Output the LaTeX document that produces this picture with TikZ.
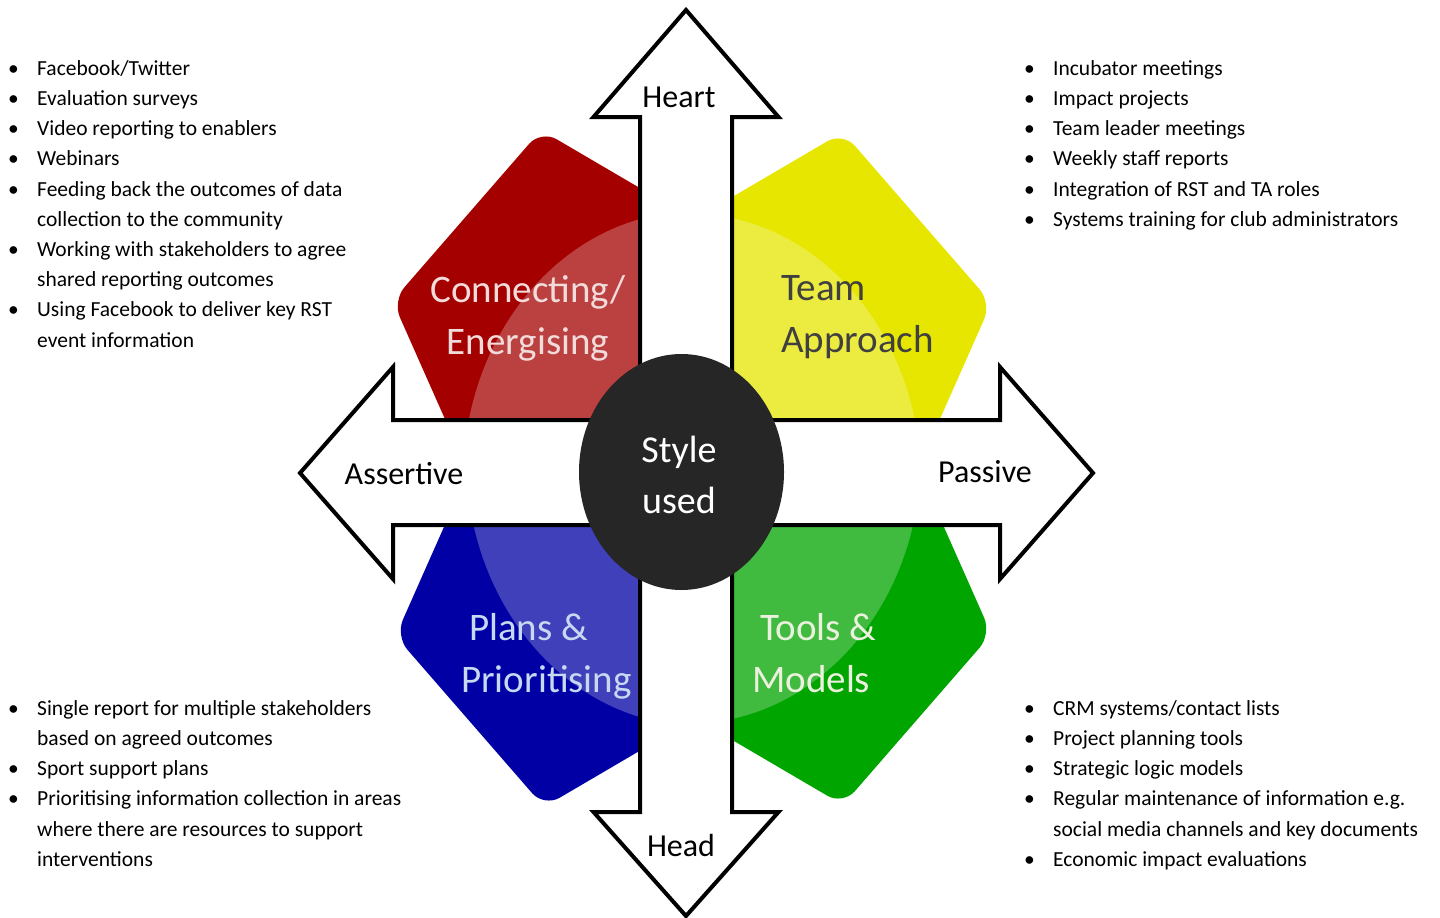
\documentclass[tikz,border=0pt]{standalone}
\usepackage{fontspec}
\setmainfont{Carlito}
\usetikzlibrary{shapes.geometric}
\definecolor{cred}{RGB}{165,0,0}
\definecolor{cyel}{RGB}{230,230,0}
\definecolor{cblue}{RGB}{0,0,165}
\definecolor{cgreen}{RGB}{0,165,0}
\definecolor{cdark}{RGB}{38,38,38}
\definecolor{tred}{RGB}{242,220,219}
\definecolor{tyel}{RGB}{64,64,64}
\definecolor{tblue}{RGB}{198,217,241}
\definecolor{tgreen}{RGB}{235,241,222}
\newcommand\petal[4]{%
  \begin{scope}[shift={(#1,#2)}, yscale=-1.15]
    \fill[#4, rounded corners=18pt] (#3:178.6) -- (#3+72:178.6) -- (#3+144:178.6) -- (#3+216:178.6) -- (#3+288:178.6) -- cycle;
    \begin{scope}
      \clip[rounded corners=18pt] (#3:178.6) -- (#3+72:178.6) -- (#3+144:178.6) -- (#3+216:178.6) -- (#3+288:178.6) -- cycle;
      \fill[white, opacity=0.25] (#3:178.6) circle (232);
    \end{scope}
  \end{scope}}
\newcommand\bul{\makebox[29pt][l]{\textbullet}}
\newcommand\ind{\hspace*{29pt}}
\begin{document}
\begin{tikzpicture}[x=1pt,y=-1pt,
  arrowbox/.style={draw=black, fill=white, line width=4pt, line join=miter},
  bigtxt/.style={font=\fontsize{39}{52}\selectfont, inner sep=0pt},
  lbl/.style={font=\fontsize{32}{38}\selectfont, anchor=base, inner sep=0pt},
  lst/.style={font=\fontsize{21.5}{30.2}\selectfont, inner sep=0pt, anchor=north west, align=left}
]
\useasboundingbox (0,0) rectangle (1440,918);

% petals
\petal{569}{333}{-45}{cred}
\petal{815}{335}{225}{cyel}
\petal{572}{604}{45}{cblue}
\petal{815}{602}{135}{cgreen}

% cross of arrows
\draw[arrowbox] (686,10) -- (778.5,117) -- (732,117) -- (732,420) -- (1000,420) -- (1000,367) -- (1093,473) -- (1000,579) -- (1000,525) -- (732,525) -- (732,812) -- (778.5,812) -- (686,916) -- (593.5,812) -- (640,812) -- (640,525) -- (393,525) -- (393,579) -- (300,473) -- (393,367) -- (393,420) -- (640,420) -- (640,117) -- (593.5,117) -- cycle;

% centre
\node (core) [ellipse, fill=cdark, minimum width=205pt, minimum height=236pt, inner sep=0pt] at (681.5,472) {};
\node (coretext) [bigtxt, text=white, align=center, font=\fontsize{38}{51}\selectfont] at (679,475) {Style\\used};

% petal labels
\node (conn) [bigtxt, text=tred, align=center] at (528,318) {Connecting/\\Energising};
\node (team) [bigtxt, text=tyel, align=left, anchor=west] at (781,317) {Team\\Approach};
\node (plans) [bigtxt, text=tblue, align=left, anchor=west] at (461,656) {\hspace*{8pt}Plans \&\\Prioritising};
\node (tools) [bigtxt, text=tgreen, align=left, anchor=west] at (752,653) {\hspace*{8pt}Tools \&\\Models};

% arrow labels
\node (heart) [lbl] at (679,107) {Heart};
\node (head) [lbl] at (681,856) {Head};
\node (assert) [lbl] at (404,484) {Assertive};
\node (passive) [lbl] at (985,482) {Passive};

% lists
\node (tl) [lst] at (8,54) {\strut\bul Facebook/Twitter\\
\bul Evaluation surveys\\
\bul Video reporting to enablers\\
\bul Webinars\\
\bul Feeding back the outcomes of data\\
\ind collection to the community\\
\bul Working with stakeholders to agree\\
\ind shared reporting outcomes\\
\bul Using Facebook to deliver key RST\\
\ind event information};

\node (tr) [lst] at (1024,54) {\strut\bul Incubator meetings\\
\bul Impact projects\\
\bul Team leader meetings\\
\bul Weekly staff reports\\
\bul Integration of RST and TA roles\\
\bul Systems training for club administrators};

\node (bl) [lst] at (8,694) {\strut\bul Single report for multiple stakeholders\\
\ind based on agreed outcomes\\
\bul Sport support plans\\
\bul Prioritising information collection in areas\\
\ind where there are resources to support\\
\ind interventions};

\node (br) [lst] at (1024,694) {\strut\bul CRM systems/contact lists\\
\bul Project planning tools\\
\bul Strategic logic models\\
\bul Regular maintenance of information e.g.\\
\ind social media channels and key documents\\
\bul Economic impact evaluations};
\end{tikzpicture}
\end{document}
